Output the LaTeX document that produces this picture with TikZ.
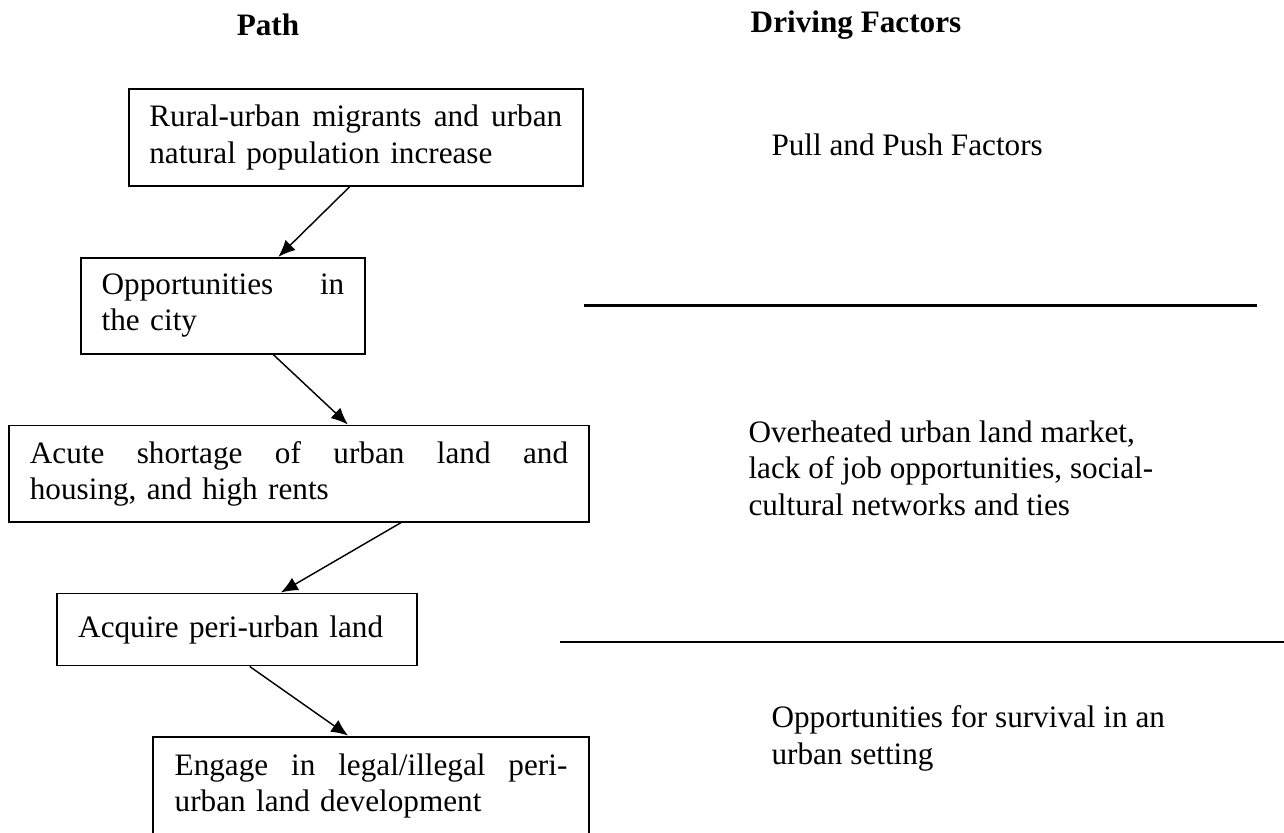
\documentclass[tikz,border=0pt]{standalone}
\usepackage{fontspec}
\setmainfont{Liberation Serif}
\usetikzlibrary{arrows.meta}
\newcommand{\jline}[2]{\hbox to #1{#2}}

\tikzset{
  pathbox/.style={draw, line width=0.75pt, align=left, inner xsep=0pt, inner ysep=0pt},
  flow/.style={-{Latex[length=6.5pt,width=5.5pt]}, line width=0.55pt},
  factor/.style={anchor=west, align=left, inner sep=0pt},
  divider/.style={line width=0.9pt}
}

\begin{document}
\begin{tikzpicture}[x=0.3846pt,y=-0.3846pt,font=\fontsize{12}{14}\selectfont]
\useasboundingbox (0,0) rectangle (1284,833);

\node[font=\fontsize{12}{14}\selectfont\bfseries] (pathhead) at (268,25) {Path};
\node[font=\fontsize{12}{14}\selectfont\bfseries] (drivehead) at (856,25) {Driving Factors};

\node[pathbox, minimum width=174.8pt, minimum height=37.2pt, text width=158.8pt] (migrants) at (355.8,137.5)
  {\jline{158.8pt}{Rural-urban\hfill migrants\hfill and\hfill urban}\\natural population increase};
\node[pathbox, minimum width=109.2pt, minimum height=36.9pt, text width=93.3pt] (city) at (223,305.8)
  {\jline{93.3pt}{Opportunities\hfill in}\\the city};
\node[pathbox, minimum width=223pt, minimum height=37pt, text width=207pt] (shortage) at (299,473.6)
  {\jline{207pt}{Acute\hfill shortage\hfill of\hfill urban\hfill land\hfill and}\\housing, and high rents};
\node[pathbox, minimum width=138.5pt, minimum height=27.7pt, text width=121.9pt] (acquire) at (236.7,629.5)
  {Acquire peri-urban land};
\node[pathbox, minimum width=167.7pt, minimum height=38pt, text width=151pt] (engage) at (371,786)
  {\jline{151pt}{Engage\hfill in\hfill legal/illegal\hfill peri-}\\urban land development};

\draw[flow] ([xshift=-2.4pt]migrants.south) -- ([xshift=21.3pt]city.north);
\draw[flow] ([xshift=19.4pt]city.south) -- ([xshift=18.8pt]shortage.north);
\draw[flow] ([xshift=39.2pt]shortage.south) -- ([xshift=17pt]acquire.north);
\draw[flow] ([xshift=5pt]acquire.south) -- ([xshift=-8.8pt]engage.north);

\node[factor] (pullpush) at (771,144.5) {Pull and Push Factors};
\node[factor] (market) at (748,468) {Overheated urban land market,\\lack of job opportunities, social-\\cultural networks and ties};
\node[factor] (survival) at (771,738.5) {Opportunities for survival in an\\urban setting};

\draw[divider] (584,305.5) -- (1257,305.5);
\draw[divider] (560,641.7) -- (1284,641.7);

\end{tikzpicture}
\end{document}
